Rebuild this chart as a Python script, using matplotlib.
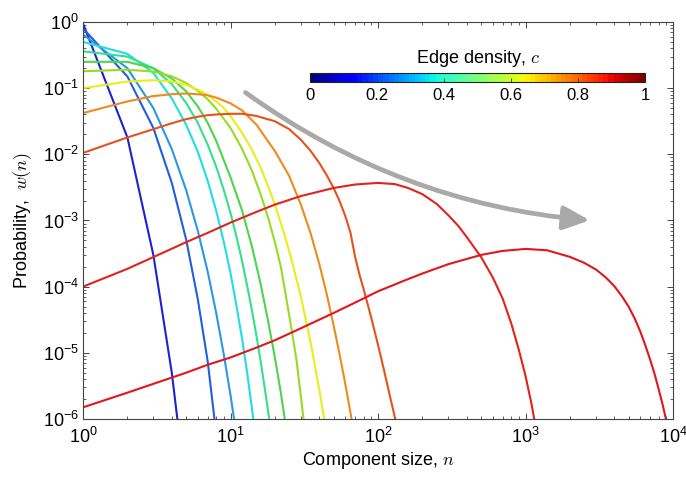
import numpy as np
import matplotlib
matplotlib.use("Agg")
import matplotlib.pyplot as plt
from matplotlib.patches import FancyArrowPatch
from matplotlib.colors import Normalize

plt.rcParams['font.family'] = ['Liberation Sans', 'DejaVu Sans']
plt.rcParams['mathtext.fontset'] = 'custom'
plt.rcParams['mathtext.rm'] = 'Liberation Sans'
plt.rcParams['mathtext.it'] = 'Liberation Sans:italic'

# ---------------- data ----------------
line_colors = ['#1a22d2', '#1f5fe0', '#2a98e4', '#22dce6', '#35e08c', '#4cd64c',
               '#97dc22', '#ecec1c', '#ef8b1d', '#e8501c', '#e2231b', '#e0171b']

n1 = [1, 2, 3, 4, 5]
w1 = [0.95, 1.8e-2, 3.0e-4, 5.0e-6, 8e-8]

n2 = [1, 2, 3, 4, 5, 6, 7, 8]
w2 = [0.80, 0.15, 2.5e-2, 3.7e-3, 5.2e-4, 6.5e-5, 7.5e-6, 6e-7]

n3 = [1, 2, 3, 4, 5, 6, 7, 8, 9, 10, 11]
w3 = [0.65, 0.20, 5.0e-2, 1.2e-2, 2.9e-3, 7.0e-4, 1.7e-4, 4.0e-5, 9.5e-6, 2.3e-6, 5.5e-7]

n4 = [1, 2, 3, 4, 5, 6, 7, 8, 9, 10, 11, 12, 13, 14, 15]
w4 = [0.50, 0.33, 0.17, 0.07, 2.8e-2, 1.1e-2, 4.0e-3, 1.4e-3, 4.8e-4, 1.6e-4,
      5.0e-5, 1.6e-5, 4.8e-6, 1.4e-6, 4e-7]

n5 = [1, 2, 3, 4, 5, 6, 7, 8, 9, 10, 11, 12, 13, 14, 15, 16, 17, 18, 19]
w5 = [0.36, 0.30, 0.20, 0.115, 6.0e-2, 3.0e-2, 1.4e-2, 6.5e-3, 2.9e-3, 1.3e-3,
      5.6e-4, 2.4e-4, 1.0e-4, 4.3e-5, 1.8e-5, 7.5e-6, 3.1e-6, 1.3e-6, 5.3e-7]

n6 = [1, 2, 3, 4, 5, 6, 7, 8, 10, 12, 14, 16, 18, 20, 22, 24]
w6 = [0.25, 0.25, 0.20, 0.14, 9.0e-2, 5.3e-2, 3.0e-2, 1.6e-2, 4.5e-3, 1.4e-3,
      4.0e-4, 1.1e-4, 3.0e-5, 8.5e-6, 2.4e-6, 6.5e-7]

n7 = [1, 2, 3, 4, 5, 6, 7, 8, 10, 12, 14, 16, 18, 20, 22, 24, 26, 28, 30, 32]
w7 = [0.18, 0.19, 0.178, 0.151, 0.120, 9.1e-2, 6.8e-2, 4.9e-2, 2.5e-2, 1.2e-2,
      5.6e-3, 2.5e-3, 1.1e-3, 4.7e-4, 1.95e-4, 6.3e-5, 2.2e-5, 7.9e-6, 2.2e-6, 6.3e-7]

n8 = [1, 2, 3, 4, 5, 6, 7, 8, 9, 10, 12, 14, 16, 18, 20, 23, 26, 30, 35, 40, 45]
w8 = [0.10, 0.126, 0.132, 0.126, 0.112, 9.5e-2, 7.9e-2, 6.3e-2, 5.0e-2, 3.8e-2,
      2.1e-2, 1.17e-2, 6.3e-3, 3.3e-3, 1.74e-3, 6.6e-4, 2.5e-4, 7.1e-5, 1.4e-5,
      2.8e-6, 5.6e-7]

n9 = [1, 2, 3, 4, 5, 6, 7, 8, 10, 12, 15, 20, 25, 30, 35, 40, 45, 50, 55, 60, 65, 70]
w9 = [0.042, 0.063, 0.076, 0.081, 0.083, 0.081, 0.078, 0.072, 0.059, 0.046,
      0.028, 0.0112, 4.7e-3, 1.74e-3, 6.3e-4, 2.2e-4, 7.6e-5, 2.6e-5, 9.3e-6,
      3.4e-6, 1.26e-6, 4.8e-7]

n10 = [1, 2, 3, 4, 5, 6, 7, 8, 10, 12, 15, 20, 25, 30, 35, 40, 45, 50, 55, 60,
       65, 70, 75, 80, 90, 100, 110, 120, 130, 140]
w10 = [0.0105, 0.018, 0.024, 0.0295, 0.034, 0.037, 0.039, 0.040, 0.041, 0.041,
       0.038, 0.0316, 0.024, 0.0166, 0.0112, 7.4e-3, 4.8e-3, 3.1e-3, 1.95e-3,
       1.17e-3, 6.6e-4, 2.8e-4, 1.5e-4, 9.1e-5, 3.4e-5, 1.32e-5, 5.4e-6, 2.3e-6,
       1.07e-6, 5.0e-7]

n11 = [1, 2, 3, 5, 7, 10, 15, 20, 30, 50, 70, 100, 130, 160, 200, 250, 300,
       350, 400, 500, 600, 700, 800, 900, 1000, 1100, 1200]
w11 = [1.0e-4, 1.86e-4, 2.8e-4, 4.7e-4, 6.5e-4, 9.3e-4, 1.35e-3, 1.74e-3,
       2.34e-3, 3.1e-3, 3.5e-3, 3.7e-3, 3.55e-3, 3.1e-3, 2.5e-3, 1.78e-3,
       1.2e-3, 8.3e-4, 5.6e-4, 2.8e-4, 1.38e-4, 6.6e-5, 2.8e-5, 1.12e-5,
       4.5e-6, 1.66e-6, 5.6e-7]

n12 = [1, 2, 3, 5, 7, 10, 15, 20, 30, 50, 70, 100, 150, 200, 300, 500, 700,
       1000, 1400, 2000, 2500, 3000, 3500, 4000, 4500, 5000, 5500, 6000, 6500,
       7000, 7500, 8000, 8500, 9000, 9500]
w12 = [1.5e-6, 2.5e-6, 3.4e-6, 5.0e-6, 6.6e-6, 8.5e-6, 1.2e-5, 1.55e-5, 2.35e-5,
       4.0e-5, 5.75e-5, 8.5e-5, 1.23e-4, 1.58e-4, 2.19e-4, 3.02e-4, 3.47e-4,
       3.72e-4, 3.55e-4, 2.82e-4, 2.29e-4, 1.82e-4, 1.38e-4, 1.02e-4, 7.2e-5,
       5.0e-5, 3.3e-5, 2.1e-5, 1.29e-5, 7.9e-6, 4.8e-6, 2.8e-6, 1.66e-6, 9.5e-7,
       5.4e-7]

xs = [n1, n2, n3, n4, n5, n6, n7, n8, n9, n10, n11, n12]
ys = [w1, w2, w3, w4, w5, w6, w7, w8, w9, w10, w11, w12]

x_ticks = [1, 10, 100, 1000, 10000]
y_ticks = [1e-6, 1e-5, 1e-4, 1e-3, 1e-2, 1e-1, 1]
cbar_ticks = [0, 0.2, 0.4, 0.6, 0.8, 1]
cbar_labels = ['0', '0.2', '0.4', '0.6', '0.8', '1']

# ---------------- figure ----------------
fig = plt.figure(figsize=(6.86, 4.80), dpi=100)
ax = fig.add_axes([83/686, 61/480, 590/686, 397/480])

cmap = plt.get_cmap('jet', 64)
norm = Normalize(0, 1)

for col, x, y in zip(line_colors, xs, ys):
    ax.plot(x, y, color=col, lw=1.5, solid_joinstyle='round')

ax.set_xscale('log')
ax.set_yscale('log')
ax.set_xlim(1, 1e4)
ax.set_ylim(1e-6, 1)
ax.set_xticks(x_ticks)
ax.set_yticks(y_ticks)

for s in ax.spines.values():
    s.set_color('#444444')
    s.set_linewidth(0.8)
ax.tick_params(which='both', direction='in', top=True, right=True,
               color='#444444', labelsize=13)
ax.tick_params(which='major', length=4, width=0.7)
ax.tick_params(which='minor', length=2, width=0.6)
ax.tick_params(axis='x', pad=6)
ax.tick_params(axis='y', pad=3)

ax.set_xlabel(r'Component size, $n$', fontsize=13, labelpad=2, math_fontfamily='cm')
ax.set_ylabel(r'Probability,  $w(n)$', fontsize=13, labelpad=6, math_fontfamily='cm')

# arrow
arrow = FancyArrowPatch((12.2, 0.091), (2850, 1.0e-3),
                        connectionstyle='arc3,rad=0.14',
                        arrowstyle='-|>,head_length=10,head_width=4.5',
                        color='#a9a9a9', lw=3.4, mutation_scale=1.6)
ax.add_patch(arrow)

# colorbar
cax = fig.add_axes([310/686, 1 - 82/480, 335/686, 9/480])
sm = matplotlib.cm.ScalarMappable(norm=norm, cmap=cmap)
cb = fig.colorbar(sm, cax=cax, orientation='horizontal', ticks=cbar_ticks)
cb.ax.set_xticklabels(cbar_labels)
cb.ax.tick_params(direction='in', length=3, width=0.6, labelsize=12, pad=4, color='#333333')
cb.outline.set_linewidth(0.8)
cb.outline.set_edgecolor('#222222')
cb.ax.set_title(r'Edge density, $c$', fontsize=13, pad=7, math_fontfamily='cm')

fig.savefig('out.png', dpi=100)
